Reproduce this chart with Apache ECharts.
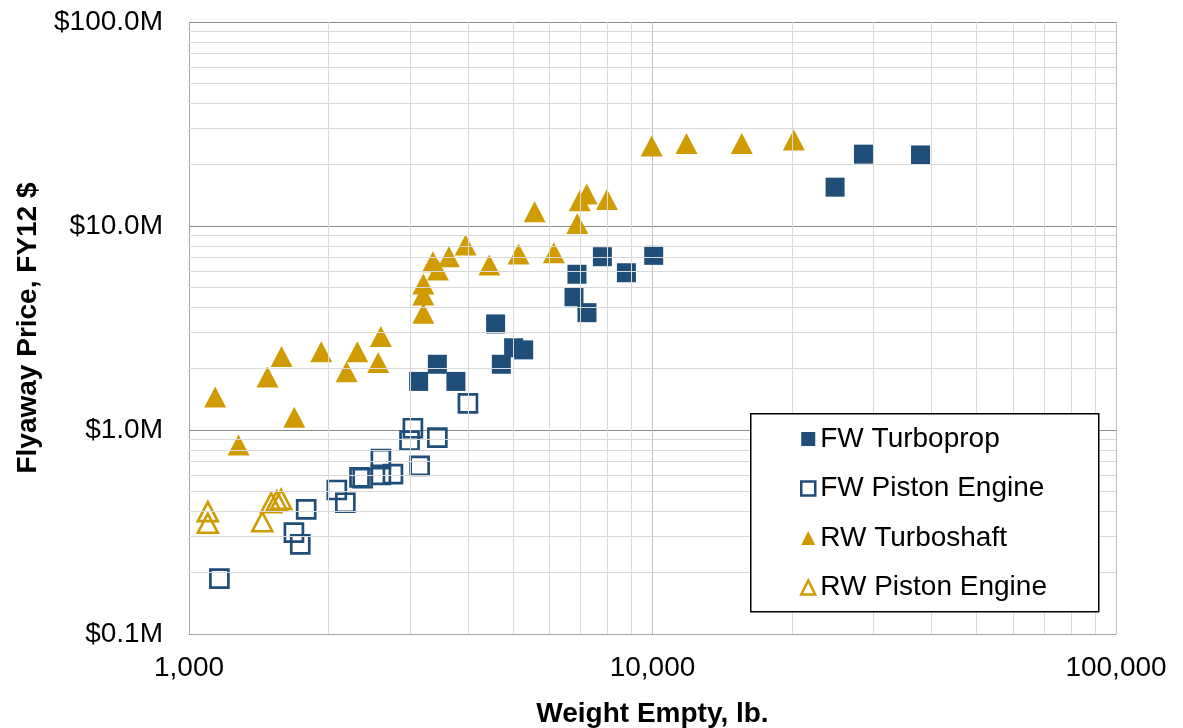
<!DOCTYPE html>
<html>
<head>
<meta charset="utf-8">
<script src="https://cdn.jsdelivr.net/npm/echarts@6/dist/echarts.min.js"></script>
<style>
  html, body { margin: 0; padding: 0; background: #fff; }
  #chart { width: 1183px; height: 728px; }
</style>
</head>
<body>
<div id="chart"></div>
<script>
// Weight empty (lb) vs flyaway price (FY12 $, millions)
const fwTurboprop = [
  [3129, 1.73], [3434, 2.10], [3766, 1.73], [4587, 3.31], [4719, 2.10],
  [5016, 2.53], [5273, 2.47], [6770, 4.50], [6871, 5.80], [7222, 3.76],
  [7796, 7.07], [8785, 5.90], [10060, 7.18], [24770, 15.5], [28520, 22.5],
  [37870, 22.3]
];
const fwPiston = [
  [1163, 0.187], [1684, 0.314], [1738, 0.275], [1790, 0.408], [2084, 0.508],
  [2174, 0.440], [2333, 0.586], [2370, 0.580], [2594, 0.720], [2594, 0.602],
  [2754, 0.608], [2991, 0.887], [3041, 1.02], [3145, 0.667], [3434, 0.917],
  [3998, 1.35]
];
const rwTurboshaft = [
  [1139, 1.45], [1279, 0.844], [1477, 1.82], [1584, 2.29], [1687, 1.154],
  [1929, 2.42], [2188, 1.93], [2307, 2.42], [2560, 2.14], [2594, 2.87],
  [3203, 3.73], [3203, 4.59], [3203, 5.20], [3360, 6.68], [3444, 6.09],
  [3637, 7.07], [3952, 8.07], [4446, 6.44], [5141, 7.29], [5568, 11.75],
  [6127, 7.40], [6884, 10.3], [6966, 13.3], [7211, 14.35], [7975, 13.5],
  [9959, 24.7], [11840, 25.4], [15580, 25.4], [20180, 26.4]
];
const rwPiston = [
  [1098, 0.398], [1098, 0.349], [1439, 0.355], [1504, 0.440], [1547, 0.450],
  [1581, 0.457]
];

const seriesNames = ['FW Turboprop', 'FW Piston Engine', 'RW Turboshaft', 'RW Piston Engine'];
const xDecades = [1000, 10000];          // minor gridlines at 2..9 x each decade
const yDecades = [0.1, 1, 10];
const xRange = [1000, 100000];
const yRange = [0.1, 100];

const BLUE = '#1f4e79';
const GOLD = '#d09b00';
const FONT = '"Liberation Sans", Arial, sans-serif';

const minorLines = [];
xDecades.forEach(d => { for (let k = 2; k <= 9; k++) minorLines.push({ xAxis: d * k }); });
yDecades.forEach(d => { for (let k = 2; k <= 9; k++) minorLines.push({ yAxis: +(d * k).toPrecision(3) }); });

const chart = echarts.init(document.getElementById('chart'), null, { renderer: 'canvas' });

chart.setOption({
  animation: false,
  backgroundColor: '#fff',
  textStyle: { fontFamily: FONT },
  grid: { left: 189, right: 67, top: 22, bottom: 94, containLabel: false, outerBoundsMode: 'none' },
  xAxis: {
    type: 'log', logBase: 10, min: xRange[0], max: xRange[1],
    name: 'Weight Empty, lb.', nameLocation: 'middle', nameGap: 66,
    nameTextStyle: { fontSize: 28, lineHeight: 28, fontWeight: 'bold', color: '#000', fontFamily: FONT },
    axisLine: { show: true, lineStyle: { color: '#a6a6a6', width: 1 } },
    axisTick: { show: false },
    axisLabel: {
      fontSize: 28, color: '#000', margin: 20, fontFamily: FONT,
      formatter: v => Math.round(v).toLocaleString('en-US')
    },
    splitLine: { show: true, lineStyle: { color: '#bfbfbf', width: 1 } }
  },
  yAxis: {
    type: 'log', logBase: 10, min: yRange[0], max: yRange[1],
    name: 'Flyaway Price, FY12 $', nameLocation: 'middle', nameGap: 147,
    nameTextStyle: { fontSize: 28, fontWeight: 'bold', color: '#000', fontFamily: FONT },
    axisLine: { show: true, lineStyle: { color: '#a6a6a6', width: 1 } },
    axisTick: { show: false },
    axisLabel: {
      fontSize: 28, color: '#000', margin: 26, fontFamily: FONT,
      formatter: v => '$' + v.toFixed(1) + 'M'
    },
    splitLine: { show: true, lineStyle: { color: '#8c8c8c', width: 1 } }
  },
  legend: {
    data: [
      { name: seriesNames[0], icon: 'rect', itemStyle: { color: BLUE } },
      { name: seriesNames[1], icon: 'rect', itemStyle: { color: '#fff', borderColor: BLUE, borderWidth: 2.5 } },
      { name: seriesNames[2], icon: 'triangle', itemStyle: { color: GOLD } },
      { name: seriesNames[3], icon: 'triangle', itemStyle: { color: '#fff', borderColor: GOLD, borderWidth: 2.5 } }
    ],
    orient: 'vertical', left: 800, top: 424, padding: 0, z: 30,
    itemWidth: 14, itemHeight: 14, itemGap: 19.5,
    textStyle: { fontSize: 28, lineHeight: 30, color: '#000', fontFamily: FONT }
  },
  graphic: [{
    type: 'rect', left: 750, top: 413, z: 20,
    shape: { width: 348, height: 198 },
    style: { fill: '#fff', stroke: '#000', lineWidth: 1.5 }
  }],
  series: [
    {
      name: 'minor grid', type: 'scatter', data: [], silent: true, z: 1,
      markLine: {
        silent: true, symbol: 'none', animation: false,
        label: { show: false },
        lineStyle: { color: '#d9d9d9', width: 1, type: 'solid' },
        emphasis: { disabled: true },
        data: minorLines
      }
    },
    {
      name: seriesNames[0], type: 'scatter', data: fwTurboprop,
      symbol: 'rect', symbolSize: 19,
      itemStyle: { color: BLUE, opacity: 1 }
    },
    {
      name: seriesNames[1], type: 'scatter', data: fwPiston,
      symbol: 'rect', symbolSize: 18,
      itemStyle: { color: 'rgba(255,255,255,0)', borderColor: BLUE, borderWidth: 2.7, opacity: 1 }
    },
    {
      name: seriesNames[2], type: 'scatter', data: rwTurboshaft,
      symbol: 'triangle', symbolSize: [22, 21],
      itemStyle: { color: GOLD, opacity: 1 }
    },
    {
      name: seriesNames[3], type: 'scatter', data: rwPiston,
      symbol: 'triangle', symbolSize: [20, 19],
      itemStyle: { color: 'rgba(255,255,255,0)', borderColor: GOLD, borderWidth: 2.6, opacity: 1 }
    }
  ]
});
</script>
</body>
</html>
